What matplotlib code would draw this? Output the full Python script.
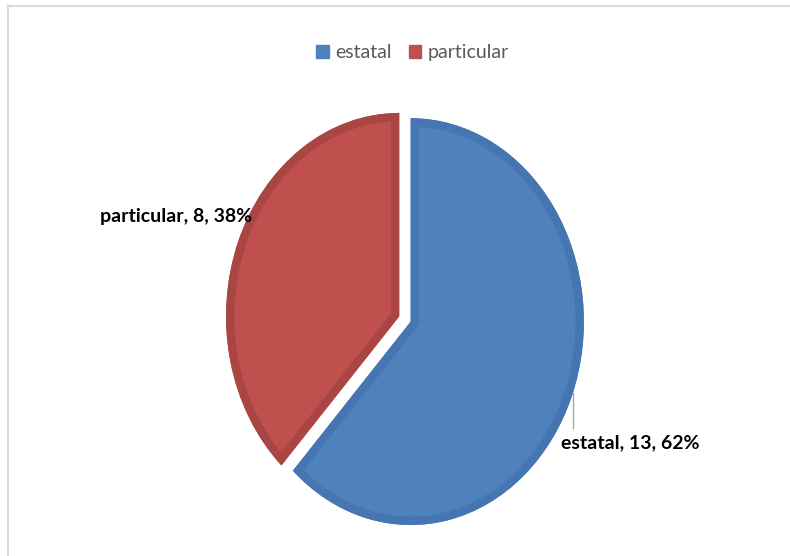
import numpy as np
import matplotlib.pyplot as plt
from matplotlib.lines import Line2D
from matplotlib.patches import Patch, PathPatch

# Data
categories = ['estatal', 'particular']
counts = [13, 8]
colors = ['#4F81BD', '#C0504D']
edge_colors = ['#4676B2', '#A94643']

total = sum(counts)
pcts = [round(100 * c / total) for c in counts]

fig = plt.figure(figsize=(7.9, 5.56), dpi=100)
ax = fig.add_axes([0.2468, 0.0198, 0.5316, 0.813])

wedges, _ = ax.pie(counts, colors=colors, startangle=90, counterclock=False,
                   explode=[0.035, 0.035], radius=0.99,
                   wedgeprops=dict(linewidth=0))
ax.set_aspect('auto')
ax.set_xlim(-1.2, 1.2)
ax.set_ylim(-1.1, 1.1)

# darker inner band like the original (stroke clipped to the wedge)
for w, ec in zip(wedges, edge_colors):
    band = PathPatch(w.get_path(), transform=w.get_transform(), facecolor='none',
                     edgecolor=ec, linewidth=12, joinstyle='miter')
    ax.add_patch(band)
    band.set_clip_path(w.get_path(), w.get_transform())

# data labels
lab_font = dict(family=['Lato', 'DejaVu Sans'], fontsize=14, fontweight='bold')
ax.text(-1.31, 0.5, f"{categories[1]}, {counts[1]}, {pcts[1]}%",
        ha='center', va='center', **lab_font)
ax.text(1.29, -0.6, f"{categories[0]}, {counts[0]}, {pcts[0]}%",
        ha='center', va='center', **lab_font)
ax.plot([0.96, 0.96], [-0.36, -0.53], color='#A6A6A6', lw=1, clip_on=False)

# legend
handles = [Patch(facecolor=c, edgecolor=c) for c in colors]
fig.legend(handles, categories, loc='center', bbox_to_anchor=(0.522, 0.905), ncol=2,
           frameon=False, handlelength=0.65, handleheight=0.65, handletextpad=0.3,
           columnspacing=0.9,
           prop={'family': ['Lato', 'DejaVu Sans'], 'size': 14},
           labelcolor='#595959')

# chart border (only top/left visible)
fig.add_artist(Line2D([8 / 790, 8 / 790], [0, 1 - 6 / 556], transform=fig.transFigure,
                      color='#D9D9D9', lw=1.5))
fig.add_artist(Line2D([8 / 790, 1], [1 - 6 / 556, 1 - 6 / 556], transform=fig.transFigure,
                      color='#D9D9D9', lw=1.5))

fig.savefig('out.png', dpi=100)
